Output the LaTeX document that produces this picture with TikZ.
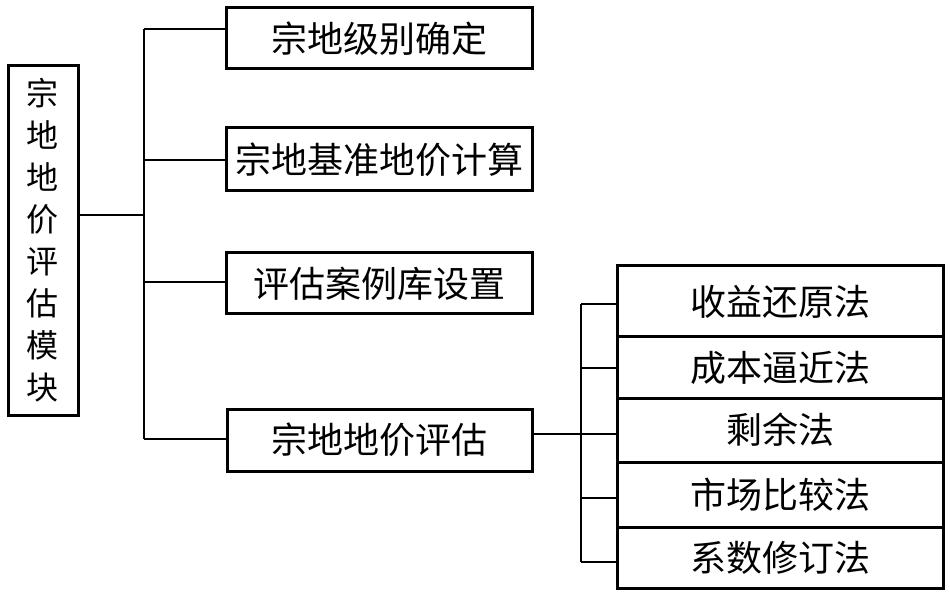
\documentclass[tikz,border=0pt]{standalone}
\usepackage{fontspec}
\newfontfamily\cjk{Noto Sans CJK SC}
\begin{document}
\begin{tikzpicture}[x=1pt,y=-1pt,
  box/.style={draw=black,line width=3pt,rectangle,inner sep=0pt,font=\cjk\fontsize{36}{40}\selectfont},
  conn/.style={draw=black,line width=2.8pt}]
\useasboundingbox (0,0) rectangle (950,593);
% left vertical box
\node[box,minimum width=70pt,minimum height=349pt,align=center,font=\cjk\fontsize{32}{42}\selectfont] (L) at (43,240.5) {宗\\地\\地\\价\\评\\估\\模\\块};
% middle boxes
\node[box,minimum width=306pt,minimum height=61pt] (b1) at (379,38.5) {宗地级别确定};
\node[box,minimum width=306pt,minimum height=63pt] (b2) at (379,159.5) {宗地基准地价计算};
\node[box,minimum width=306pt,minimum height=61pt] (b3) at (379,283.5) {评估案例库设置};
\node[box,minimum width=305pt,minimum height=62pt] (b4) at (379.5,440) {宗地地价评估};
% right boxes
\node[box,minimum width=326pt,minimum height=71pt] (r1) at (780,301.5) {收益还原法};
\node[box,minimum width=326pt,minimum height=61pt] (r2) at (780,367.5) {成本逼近法};
\node[box,minimum width=326pt,minimum height=64pt] (r3) at (780,430) {剩余法};
\node[box,minimum width=326pt,minimum height=65pt] (r4) at (780,494.5) {市场比较法};
\node[box,minimum width=326pt,minimum height=61pt] (r5) at (780,557.5) {系数修订法};
% left tree
\coordinate (j0) at (144,215);
\coordinate (t1) at (144,29);
\coordinate (t2) at (144,160);
\coordinate (t3) at (144,282);
\coordinate (t4) at (144,439);
\draw[conn] (L.east |- j0) -- (j0);
\draw[conn] (t1) -- (t4);
\draw[conn] (t1) -- (b1.west |- t1);
\draw[conn] (t2) -- (b2.west |- t2);
\draw[conn] (t3) -- (b3.west |- t3);
\draw[conn] (t4) -- (b4.west |- t4);
% right tree
\coordinate (s1) at (581,304);
\coordinate (s2) at (581,368);
\coordinate (s3) at (581,434);
\coordinate (s4) at (581,498);
\coordinate (s5) at (581,562);
\draw[conn] (b4.east |- s3) -- (r3.west |- s3);
\draw[conn] (s1) -- (s5);
\draw[conn] (s1) -- (r1.west |- s1);
\draw[conn] (s2) -- (r2.west |- s2);
\draw[conn] (s4) -- (r4.west |- s4);
\draw[conn] (s5) -- (r5.west |- s5);
\end{tikzpicture}
\end{document}
